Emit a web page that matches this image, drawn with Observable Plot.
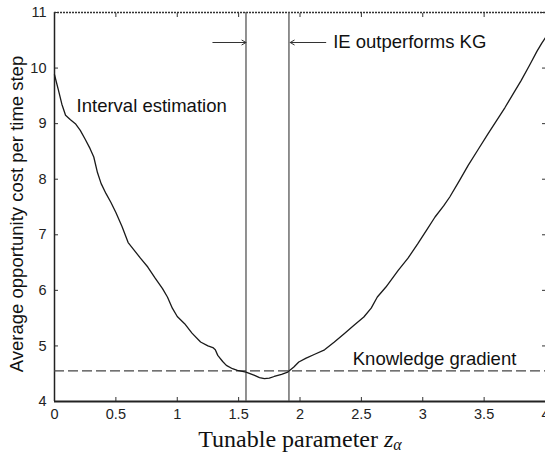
<!DOCTYPE html>
<html>
<head>
<meta charset="utf-8">
<script src="https://cdn.jsdelivr.net/npm/d3@7"></script>
<script src="https://cdn.jsdelivr.net/npm/@observablehq/plot@0.6"></script>
<style>
  html, body { margin: 0; padding: 0; background: #fff; }
  #chart { width: 545px; height: 455px; }
</style>
</head>
<body>
<div id="chart"></div>
<script>
// Interval estimation curve (tunable parameter z_alpha vs. average opportunity cost)
const ieX = [0.00,0.03,0.06,0.09,0.13,0.17,0.21,0.25,0.29,0.32,0.35,0.38,0.42,0.46,0.50,0.55,0.60,0.65,0.70,0.76,0.82,0.88,0.92,0.96,1.00,1.06,1.12,1.19,1.25,1.29,1.31,1.33,1.37,1.40,1.45,1.49,1.56,1.63,1.67,1.71,1.75,1.79,1.85,1.90,1.95,1.99,2.05,2.12,2.20,2.28,2.36,2.44,2.52,2.58,2.63,2.70,2.80,2.88,2.96,3.03,3.10,3.17,3.22,3.30,3.37,3.45,3.53,3.60,3.67,3.74,3.80,3.87,3.93,3.97,4.00];
const ieY = [9.88,9.62,9.35,9.15,9.07,9.00,8.88,8.72,8.55,8.40,8.12,7.92,7.74,7.58,7.40,7.15,6.86,6.72,6.58,6.42,6.22,6.03,5.88,5.68,5.53,5.40,5.23,5.07,5.00,4.97,4.93,4.83,4.72,4.65,4.59,4.56,4.53,4.47,4.43,4.41,4.42,4.45,4.49,4.53,4.62,4.71,4.78,4.85,4.93,5.07,5.22,5.37,5.52,5.68,5.88,6.06,6.36,6.58,6.84,7.08,7.32,7.52,7.68,7.98,8.25,8.53,8.81,9.05,9.29,9.55,9.77,10.05,10.30,10.45,10.55];
// Knowledge gradient (constant level)
const kgLevel = [4.55];
// Crossover points: region where IE outperforms KG
const crossX = [1.56, 1.91];
// Tick values and labels
const xTicks = [0, 0.5, 1, 1.5, 2, 2.5, 3, 3.5, 4];
const xTickLabels = ["0", "0.5", "1", "1.5", "2", "2.5", "3", "3.5", "4"];
const yTicks = [4, 5, 6, 7, 8, 9, 10, 11];
const yTickLabels = ["4", "5", "6", "7", "8", "9", "10", "11"];
// Annotations
const arrowsX1 = [1.29, 2.21];
const arrowsX2 = [1.56, 1.92];
const arrowsY = [10.46, 10.46];
const labelTexts = ["IE outperforms KG", "Interval estimation", "Knowledge gradient"];
const labelX = [2.27, 0.18, 2.43];
const labelY = [10.46, 9.31, 4.77];
const yTitle = "Average opportunity cost per time step";
const xTitle = "Tunable parameter zα";

const curve = ieX.map((x, i) => ({x, y: ieY[i]}));
const arrows = arrowsX1.map((x1, i) => ({x1, x2: arrowsX2[i], y: arrowsY[i]}));
const labels = labelTexts.map((t, i) => ({t, x: labelX[i], y: labelY[i]}));

const font = "'Liberation Sans', Arial, Helvetica, sans-serif";

const chart = Plot.plot({
  width: 545,
  height: 455,
  marginLeft: 54,
  marginRight: 0,
  marginTop: 12,
  marginBottom: 54,
  x: {domain: [0, 4]},
  y: {domain: [4, 11]},
  style: {fontFamily: font, background: "#fff", color: "#111", overflow: "visible"},
  marks: [
    // tick labels
    Plot.axisX({ticks: xTicks, tickFormat: (d) => xTickLabels[xTicks.indexOf(d)], tickSize: 0, tickPadding: 7, fontSize: 14.5, label: null, fill: "#222"}),
    Plot.axisY({ticks: yTicks, tickFormat: (d) => yTickLabels[yTicks.indexOf(d)], tickSize: 0, tickPadding: 8, fontSize: 14.5, label: null, fill: "#222"}),
    // inward tick marks on all four sides
    Plot.axisX({anchor: "bottom", ticks: xTicks, tickSize: -4, fill: "none", label: null, stroke: "#333"}),
    Plot.axisX({anchor: "top", ticks: xTicks, tickSize: -4, fill: "none", label: null, stroke: "#333"}),
    Plot.axisY({anchor: "left", ticks: yTicks, tickSize: -4, fill: "none", label: null, stroke: "#333"}),
    Plot.axisY({anchor: "right", ticks: yTicks, tickSize: -4, fill: "none", label: null, stroke: "#333"}),
    // frame lines
    Plot.ruleX([0], {stroke: "#222", strokeWidth: 1.5}),
    Plot.ruleY([4], {stroke: "#222", strokeWidth: 1.8}),
    Plot.ruleY([11], {stroke: "#333", strokeWidth: 1.4, strokeDasharray: "2,1"}),
    // crossover region
    Plot.ruleX(crossX, {stroke: "#555", strokeWidth: 1.3}),
    // knowledge gradient
    Plot.ruleY(kgLevel, {stroke: "#444", strokeWidth: 1.3, strokeDasharray: "10,4"}),
    // interval estimation curve
    Plot.line(curve, {x: "x", y: "y", stroke: "#1a1a1a", strokeWidth: 1.3}),
    // arrows
    Plot.arrow(arrows, {x1: "x1", x2: "x2", y1: "y", y2: "y", stroke: "#333", strokeWidth: 1, headLength: 7, bend: 0}),
    // annotations
    Plot.text(labels, {x: "x", y: "y", text: "t", textAnchor: "start", fontSize: 18.5, fill: "#111"}),
    // axis titles
    Plot.text([yTitle], {frameAnchor: "left", rotate: -90, textAnchor: "middle", lineAnchor: "middle", dx: -37, dy: 7, fontSize: 18.5, fill: "#111"}),
    Plot.text([xTitle], {frameAnchor: "bottom", textAnchor: "middle", lineAnchor: "middle", dy: 38, fontSize: 24, fill: "#111", fontFamily: "'Liberation Serif', 'Times New Roman', serif"})
  ]
});

// Render z_alpha with italic z and subscript alpha
d3.select(chart).selectAll("text").filter(function () { return this.textContent === xTitle; }).each(function () {
  const t = d3.select(this);
  t.text(null);
  t.append("tspan").text("Tunable parameter ");
  t.append("tspan").attr("font-style", "italic").text("z");
  t.append("tspan").attr("font-style", "italic").attr("font-size", "16px").attr("dy", "3").text("α");
});

document.getElementById("chart").appendChild(chart);
</script>
</body>
</html>
